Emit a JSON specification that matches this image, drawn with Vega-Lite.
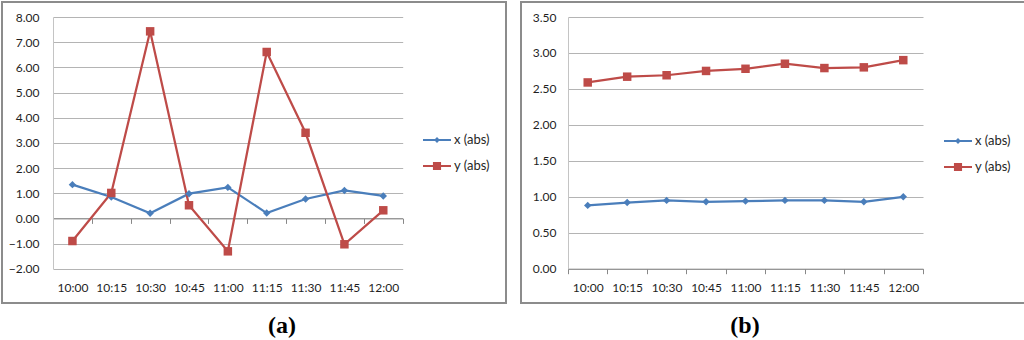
{
  "$schema": "https://vega.github.io/schema/vega-lite/v6.json",
  "padding": {"left": 1, "top": 1, "right": 0, "bottom": 0},
  "background": "white",
  "spacing": 13,
  "datasets": {
    "a": [
      {"time": "10:00", "series": "x (abs)", "value": 1.34},
      {"time": "10:15", "series": "x (abs)", "value": 0.85},
      {"time": "10:30", "series": "x (abs)", "value": 0.20},
      {"time": "10:45", "series": "x (abs)", "value": 0.98},
      {"time": "11:00", "series": "x (abs)", "value": 1.23},
      {"time": "11:15", "series": "x (abs)", "value": 0.21},
      {"time": "11:30", "series": "x (abs)", "value": 0.77},
      {"time": "11:45", "series": "x (abs)", "value": 1.11},
      {"time": "12:00", "series": "x (abs)", "value": 0.89},
      {"time": "10:00", "series": "y (abs)", "value": -0.90},
      {"time": "10:15", "series": "y (abs)", "value": 1.01},
      {"time": "10:30", "series": "y (abs)", "value": 7.43},
      {"time": "10:45", "series": "y (abs)", "value": 0.52},
      {"time": "11:00", "series": "y (abs)", "value": -1.31},
      {"time": "11:15", "series": "y (abs)", "value": 6.61},
      {"time": "11:30", "series": "y (abs)", "value": 3.40},
      {"time": "11:45", "series": "y (abs)", "value": -1.03},
      {"time": "12:00", "series": "y (abs)", "value": 0.32}
    ],
    "b": [
      {"time": "10:00", "series": "x (abs)", "value": 0.88},
      {"time": "10:15", "series": "x (abs)", "value": 0.92},
      {"time": "10:30", "series": "x (abs)", "value": 0.95},
      {"time": "10:45", "series": "x (abs)", "value": 0.93},
      {"time": "11:00", "series": "x (abs)", "value": 0.94},
      {"time": "11:15", "series": "x (abs)", "value": 0.95},
      {"time": "11:30", "series": "x (abs)", "value": 0.95},
      {"time": "11:45", "series": "x (abs)", "value": 0.93},
      {"time": "12:00", "series": "x (abs)", "value": 1.00},
      {"time": "10:00", "series": "y (abs)", "value": 2.59},
      {"time": "10:15", "series": "y (abs)", "value": 2.67},
      {"time": "10:30", "series": "y (abs)", "value": 2.69},
      {"time": "10:45", "series": "y (abs)", "value": 2.75},
      {"time": "11:00", "series": "y (abs)", "value": 2.78},
      {"time": "11:15", "series": "y (abs)", "value": 2.85},
      {"time": "11:30", "series": "y (abs)", "value": 2.79},
      {"time": "11:45", "series": "y (abs)", "value": 2.80},
      {"time": "12:00", "series": "y (abs)", "value": 2.90}
    ]
  },
  "hconcat": [
    {
      "width": 504,
      "height": 301,
      "data": {"name": "a"},
      "title": {"text": "(a)", "orient": "bottom", "anchor": "middle", "font": "Liberation Serif", "fontSize": 24, "fontWeight": "bold", "color": "#000000", "dx": 28, "offset": 11},
      "encoding": {
        "x": {
          "field": "time", "type": "ordinal", "sort": null,
          "scale": {"type": "band", "range": [51, 400.7], "paddingInner": 0, "paddingOuter": 0},
          "axis": {"title": null, "orient": "bottom", "offset": -84.6, "tickBand": "extent", "tickSize": 5, "tickColor": "#888888", "domainColor": "#888888", "labelAngle": 0, "labelPadding": 63.6, "labelBaseline": "middle", "grid": false}
        },
        "y": {
          "field": "value", "type": "quantitative",
          "scale": {"domain": [-2, 8], "range": [266.7, 15], "nice": false, "zero": false},
          "axis": {"title": null, "values": [-2, -1, 0, 1, 2, 3, 4, 5, 6, 7, 8], "format": ".2f", "offset": -51, "ticks": false, "labelPadding": 14, "domainColor": "#c4c4c4", "gridColor": "#b4b4b4"}
        },
        "color": {
          "field": "series", "type": "nominal",
          "scale": {"domain": ["x (abs)", "y (abs)"], "range": ["#4a7ebb", "#be4b48"]},
          "legend": {
            "title": null, "orient": "none", "legendX": 421, "legendY": 132, "padding": 0,
            "clipHeight": 12, "rowPadding": 13, "labelOffset": 3, "symbolSize": 784, "symbolStrokeWidth": 0,
            "encode": {"symbols": {"update": {
              "shape": {"signal": "datum.value === 'x (abs)' ? 'M-1,-0.07L1,-0.07L1,0.07L-1,0.07Z M0,-0.21L0.21,0L0,0.21L-0.21,0Z' : 'M-1,-0.07L1,-0.07L1,0.07L-1,0.07Z M-0.29,-0.29L0.29,-0.29L0.29,0.29L-0.29,0.29Z'"},
              "fill": {"signal": "datum.value === 'x (abs)' ? '#4a7ebb' : '#be4b48'"},
              "stroke": {"value": "transparent"},
              "strokeWidth": {"value": 0},
              "size": {"value": 784},
              "opacity": {"value": 1}
            }}}
          }
        }
      },
      "layer": [
        {"mark": {"type": "line", "strokeWidth": 2.25}},
        {
          "transform": [{"filter": "datum.series === 'x (abs)'"}],
          "mark": {"type": "point", "filled": true, "opacity": 1, "shape": "diamond", "size": 55}
        },
        {
          "transform": [{"filter": "datum.series === 'y (abs)'"}],
          "mark": {"type": "point", "filled": true, "opacity": 1, "shape": "square", "size": 72}
        }
      ]
    },
    {
      "width": 504,
      "height": 301,
      "data": {"name": "b"},
      "title": {"text": "(b)", "orient": "bottom", "anchor": "middle", "font": "Liberation Serif", "fontSize": 24, "fontWeight": "bold", "color": "#000000", "dx": -28, "offset": 11},
      "encoding": {
        "x": {
          "field": "time", "type": "ordinal", "sort": null,
          "scale": {"type": "band", "range": [47, 402], "paddingInner": 0, "paddingOuter": 0},
          "axis": {"title": null, "orient": "bottom", "offset": -34.3, "tickBand": "extent", "tickSize": 5, "tickColor": "#888888", "domainColor": "#888888", "labelAngle": 0, "labelPadding": 13.3, "labelBaseline": "middle", "grid": false}
        },
        "y": {
          "field": "value", "type": "quantitative",
          "scale": {"domain": [0, 3.5], "range": [266.7, 15], "nice": false, "zero": false},
          "axis": {"title": null, "values": [0, 0.5, 1, 1.5, 2, 2.5, 3, 3.5], "format": ".2f", "offset": -47, "ticks": false, "labelPadding": 12, "domainColor": "#c4c4c4", "gridColor": "#b4b4b4"}
        },
        "color": {
          "field": "series", "type": "nominal",
          "scale": {"domain": ["x (abs)", "y (abs)"], "range": ["#4a7ebb", "#be4b48"]},
          "legend": {
            "title": null, "orient": "none", "legendX": 423, "legendY": 133, "padding": 0,
            "clipHeight": 12, "rowPadding": 13, "labelOffset": 3, "symbolSize": 784, "symbolStrokeWidth": 0,
            "encode": {"symbols": {"update": {
              "shape": {"signal": "datum.value === 'x (abs)' ? 'M-1,-0.07L1,-0.07L1,0.07L-1,0.07Z M0,-0.21L0.21,0L0,0.21L-0.21,0Z' : 'M-1,-0.07L1,-0.07L1,0.07L-1,0.07Z M-0.29,-0.29L0.29,-0.29L0.29,0.29L-0.29,0.29Z'"},
              "fill": {"signal": "datum.value === 'x (abs)' ? '#4a7ebb' : '#be4b48'"},
              "stroke": {"value": "transparent"},
              "strokeWidth": {"value": 0},
              "size": {"value": 784},
              "opacity": {"value": 1}
            }}}
          }
        }
      },
      "layer": [
        {"mark": {"type": "line", "strokeWidth": 2.25}},
        {
          "transform": [{"filter": "datum.series === 'x (abs)'"}],
          "mark": {"type": "point", "filled": true, "opacity": 1, "shape": "diamond", "size": 55}
        },
        {
          "transform": [{"filter": "datum.series === 'y (abs)'"}],
          "mark": {"type": "point", "filled": true, "opacity": 1, "shape": "square", "size": 72}
        }
      ]
    }
  ],
  "resolve": {
    "scale": {"color": "independent"},
    "legend": {"color": "independent"}
  },
  "config": {
    "view": {"stroke": "#8c8c8c", "strokeWidth": 2},
    "axis": {"labelFont": "Lato", "labelFontSize": 12, "labelColor": "#1f1f1f", "gridWidth": 1, "domainWidth": 1},
    "legend": {"labelFont": "Lato", "labelFontSize": 13, "labelColor": "#1f1f1f"}
  }
}
